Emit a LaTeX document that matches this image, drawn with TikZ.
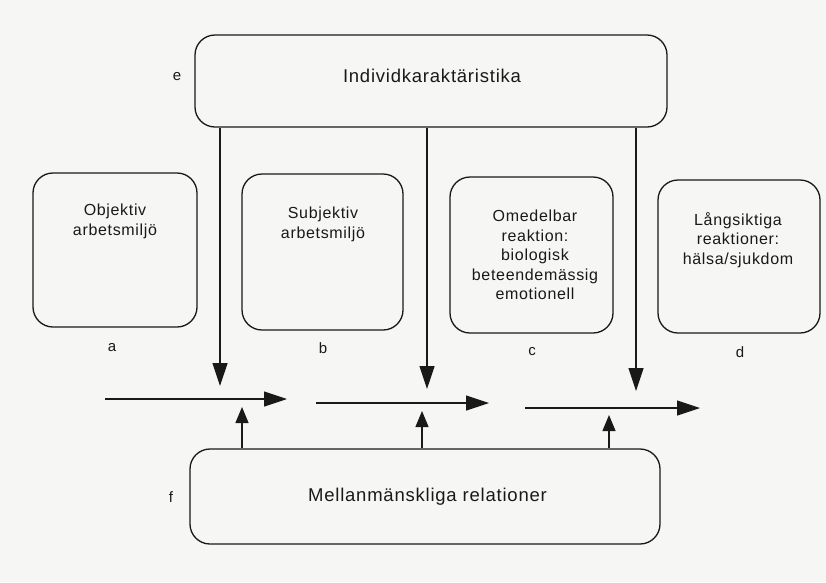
\documentclass[tikz,border=0pt]{standalone}
\usepackage{fontspec}
\setmainfont{Liberation Sans}[LetterSpace=4.2]
\usetikzlibrary{arrows.meta}
\definecolor{paper}{RGB}{246,246,244}
\definecolor{ink}{RGB}{25,25,25}
\tikzset{
  box/.style={draw=ink, line width=1.3pt, rounded corners=20pt, inner sep=0pt},
  boxtext/.style={font=\fontsize{16}{19.5}\selectfont, align=center, text=ink, inner sep=0pt, anchor=north},
  bigtext/.style={font=\fontsize{18.5}{20}\selectfont, text=ink, inner sep=0pt},
  lbl/.style={font=\fontsize{15}{18}\selectfont, text=ink, inner sep=0pt},
  arr/.style={draw=ink, line width=1.2pt, -{Triangle[length=23pt,width=15pt]}},
  uparr/.style={draw=ink, line width=1.2pt, -{Triangle[length=16pt,width=13pt]}}
}
\begin{document}
\begin{tikzpicture}[x=1pt,y=-1pt]
\fill[paper] (0,0) rectangle (826,582);
\useasboundingbox (0,0) rectangle (826,582);

% main boxes
\node[box, minimum width=472pt, minimum height=92pt] (e) at (431,81) {};
\node[bigtext] (et) at (432,76) {Individkaraktäristika};
\node[box, minimum width=470pt, minimum height=95pt] (f) at (425,496.5) {};
\node[bigtext] (ft) at (427.5,497) {Mellanmänskliga relationer};

\node[box, minimum width=164pt, minimum height=154pt] (a) at (115,250) {};
\node[box, minimum width=161pt, minimum height=156pt] (b) at (322.5,252) {};
\node[box, minimum width=163pt, minimum height=156pt] (c) at (531.5,255) {};
\node[box, minimum width=162pt, minimum height=153pt] (d) at (739,256.5) {};

% box texts
\node[boxtext] (at) at (115,204) {Objektiv\\arbetsmiljö};
\node[boxtext] (bt) at (323,207) {Subjektiv\\arbetsmiljö};
\node[boxtext] (ct) at (535,210) {Omedelbar\\reaktion:\\biologisk\\beteendemässig\\emotionell};
\node[boxtext] (dt) at (738,212) {Långsiktiga\\reaktioner:\\hälsa/sjukdom};

% letter labels
\node[lbl] (le) at (177,77) {e};
\node[lbl] (lf) at (171,497) {f};
\node[lbl] (la) at (112,348) {a};
\node[lbl] (lb) at (323,348) {b};
\node[lbl] (lc) at (532,352) {c};
\node[lbl] (ld) at (740,352) {d};

% horizontal flow arrows
\coordinate (h1s) at (105,399); \coordinate (h1e) at (287,399);
\coordinate (h2s) at (316,403); \coordinate (h2e) at (489,403);
\coordinate (h3s) at (525,408); \coordinate (h3e) at (700,408);
\draw[arr] (h1s) -- (h1e);
\draw[arr] (h2s) -- (h2e);
\draw[arr] (h3s) -- (h3e);

% down arrows from e
\coordinate (d1) at (220,386);
\coordinate (d2) at (427,389);
\coordinate (d3) at (636,391);
\draw[arr] (e.south -| d1) -- (d1);
\draw[arr] (e.south -| d2) -- (d2);
\draw[arr] (e.south -| d3) -- (d3);

% up arrows from f
\coordinate (u1) at (242,407);
\coordinate (u2) at (422,411);
\coordinate (u3) at (609,415);
\draw[uparr] (f.north -| u1) -- (u1);
\draw[uparr] (f.north -| u2) -- (u2);
\draw[uparr] (f.north -| u3) -- (u3);
\end{tikzpicture}
\end{document}
